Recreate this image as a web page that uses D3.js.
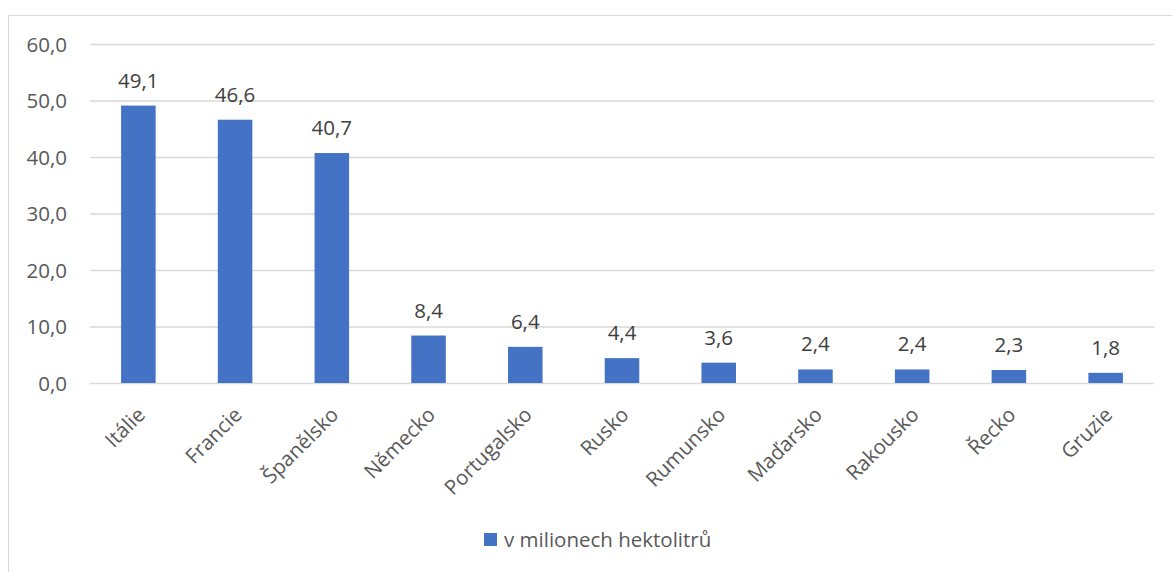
<!DOCTYPE html>
<html><head><meta charset="utf-8">
<script src="https://cdn.jsdelivr.net/npm/d3@7"></script>
<style>html,body{margin:0;padding:0;background:#fff;}svg{display:block;}</style>
</head><body>
<svg id="chart" width="1172" height="572"></svg>
<script>
const categories = ["Itálie","Francie","Španělsko","Německo","Portugalsko","Rusko","Rumunsko","Maďarsko","Rakousko","Řecko","Gruzie"];
const values = [49.1,46.6,40.7,8.4,6.4,4.4,3.6,2.4,2.4,2.3,1.8];
const yTicks = [0,10,20,30,40,50,60];
const seriesName = "v milionech hektolitrů";

const font = "'Open Sans', 'Noto Sans', sans-serif";
const fs = 20.5;
const fmt = v => v.toFixed(1).replace(".", ",");
const svg = d3.select("#chart");

svg.append("rect").attr("x",8.5).attr("y",15.5).attr("width",1180).attr("height",600)
  .attr("fill","#fff").attr("stroke","#d9d9d9").attr("stroke-width",1);

const x = d3.scaleBand().domain(categories).range([90,1154]).paddingInner(0.643).paddingOuter(0.3215);
const y = d3.scaleLinear().domain([0,60]).range([383,44]);

const yAxis = svg.append("g").attr("transform","translate(90,0)")
  .call(d3.axisLeft(y).tickValues(yTicks).tickSize(-1064).tickFormat(fmt).tickPadding(23));
yAxis.select(".domain").remove();
yAxis.selectAll(".tick line").attr("stroke","#d9d9d9").attr("stroke-width",1.3);
yAxis.selectAll(".tick text").attr("fill","#595959").attr("font-family",font).attr("font-size",fs).attr("dy","0.36em");

svg.append("g").selectAll("rect").data(values).join("rect")
  .attr("x",(d,i)=>x(categories[i])).attr("y",d=>y(d))
  .attr("width",x.bandwidth()).attr("height",d=>y(0)-y(d))
  .attr("fill","#4472C4");

svg.append("g").selectAll("text").data(values).join("text")
  .attr("x",(d,i)=>x(categories[i])+x.bandwidth()/2).attr("y",d=>y(d)-18)
  .attr("text-anchor","middle").attr("fill","#404040")
  .attr("font-family",font).attr("font-size",fs).text(fmt);

const xAxis = svg.append("g").attr("transform","translate(0,383)")
  .call(d3.axisBottom(x).tickSize(0).tickPadding(0));
xAxis.select(".domain").remove();
xAxis.selectAll(".tick text")
  .attr("fill","#595959").attr("font-family",font).attr("font-size",fs)
  .attr("text-anchor","end").attr("dy",0)
  .attr("transform","translate(8,33) rotate(-45)");

const lg = svg.append("g");
lg.append("rect").attr("x",484).attr("y",533).attr("width",13).attr("height",13).attr("fill","#4472C4");
lg.append("text").attr("x",504).attr("y",547).attr("fill","#595959")
  .attr("font-family",font).attr("font-size",fs).text(seriesName);
</script>
</body></html>
